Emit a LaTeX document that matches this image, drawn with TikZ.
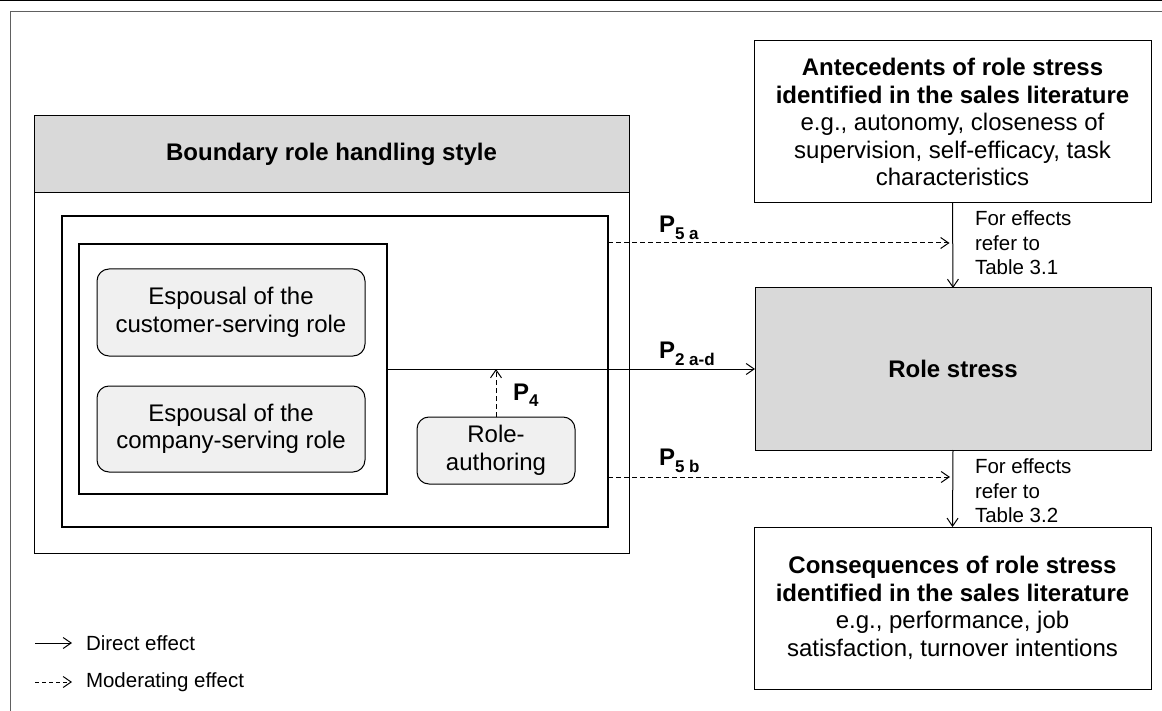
\documentclass[tikz,border=0pt]{standalone}
\usepackage{fontspec}
\setmainfont{Liberation Sans}
\usetikzlibrary{arrows.meta}
\definecolor{headgray}{HTML}{D9D9D9}
\definecolor{boxfill}{HTML}{F0F0F0}
\definecolor{framecol}{HTML}{606060}
\begin{document}
\begin{tikzpicture}[x=1pt,y=-1pt,
  every node/.style={inner sep=0pt, outer sep=0pt, font=\fontsize{24}{27.5}\selectfont, align=center},
  box/.style={draw, line width=1pt},
  rbox/.style={draw, line width=1pt, rounded corners=12pt, fill=boxfill},
  thickbox/.style={draw, line width=2pt},
  conn/.style={line width=1pt, -{Straight Barb[length=8pt,width=11pt]}},
  modconn/.style={conn, dash pattern=on 5pt off 3pt},
  smalltext/.style={font=\fontsize{20.5}{24.5}\selectfont, align=left},
  plabel/.style={font=\bfseries\fontsize{24}{24}\selectfont}
]
\useasboundingbox (0,0) rectangle (1162,711);
% page frame
\coordinate (t1) at (0,0.6);
\coordinate (t2) at (1162,0.6);
\draw[line width=1.2pt] (t1) -- (t2);
\coordinate (f1) at (10,711);
\coordinate (f2) at (10,12);
\coordinate (f3) at (1162,12);
\draw[framecol, line width=1pt] (f1) -- (f2) -- (f3);

% boundary role handling style
\node[box, minimum width=595pt, minimum height=437pt] (bnd) at (331.5,334.5) {};
\node[box, fill=headgray, minimum width=595pt, minimum height=77pt, font=\bfseries\fontsize{24}{27.5}\selectfont] (bhead) at (331.5,154.5) {Boundary role handling style};
\node[thickbox, minimum width=546pt, minimum height=311pt] (inner) at (335,371.5) {};
\node[draw, line width=2.5pt, minimum width=308pt, minimum height=250pt] (ii) at (233,369) {};
\node[rbox, minimum width=268pt, minimum height=87pt] (esp1) at (231,312.5) {Espousal of the\\customer-serving role};
\node[rbox, minimum width=268pt, minimum height=86pt] (esp2) at (231,429) {Espousal of the\\company-serving role};
\node[rbox, minimum width=158pt, minimum height=67pt] (ra) at (496,450.5) {Role-\\authoring};

% right column
\node[box, minimum width=397pt, minimum height=162pt] (ante) at (952.5,122) {\textbf{Antecedents of role stress}\\\textbf{identified in the sales literature}\\e.g., autonomy, closeness of\\supervision, self-efficacy, task\\characteristics};
\node[box, fill=headgray, minimum width=396pt, minimum height=162pt, font=\bfseries\fontsize{24}{27.5}\selectfont] (rs) at (953,369) {Role stress};
\node[box, minimum width=397pt, minimum height=162pt] (cons) at (952.5,608) {\textbf{Consequences of role stress}\\\textbf{identified in the sales literature}\\e.g., performance, job\\satisfaction, turnover intentions};

% connectors
\draw[conn] (ante.south) -- (rs.north);
\draw[conn] (rs.south) -- (cons.north);
\draw[conn] (ii.east) -- (rs.west);
\draw[modconn] (ra.north) -- (ra.north |- ii.east);
\coordinate (a5) at (608,243);
\coordinate (b5) at (608,477);
\draw[modconn] (a5) -- ([xshift=-3pt]a5 -| ante.south);
\draw[modconn] (b5) -- ([xshift=-3pt]b5 -| rs.south);

% labels
\node[plabel, anchor=base west] (p5a) at (659,233) {P\raisebox{-7pt}{\fontsize{17}{17}\selectfont 5 a}};
\node[plabel, anchor=base west] (p2) at (659,359) {P\raisebox{-7pt}{\fontsize{17}{17}\selectfont 2 a-d}};
\node[plabel, anchor=base west] (p5b) at (659,465) {P\raisebox{-7pt}{\fontsize{17}{17}\selectfont 5 b}};
\node[plabel, anchor=base west] (p4) at (513,400) {P\raisebox{-6pt}{\fontsize{17}{17}\selectfont 4}};
\node[smalltext, anchor=north west] (eff1) at (975,211) {For effects\\refer to\\Table 3.1};
\node[smalltext, anchor=north west] (eff2) at (975,459) {For effects\\refer to\\Table 3.2};

% legend
\coordinate (l1s) at (35,643);
\coordinate (l1e) at (72,643);
\coordinate (l2s) at (35,682);
\coordinate (l2e) at (72,682);
\draw[conn] (l1s) -- (l1e);
\draw[conn, dash pattern=on 4pt off 3pt] (l2s) -- (l2e);
\node[smalltext, anchor=west] (leg1) at (86,643) {Direct effect};
\node[smalltext, anchor=west] (leg2) at (86,682) {Moderating effect};
\end{tikzpicture}
\end{document}
